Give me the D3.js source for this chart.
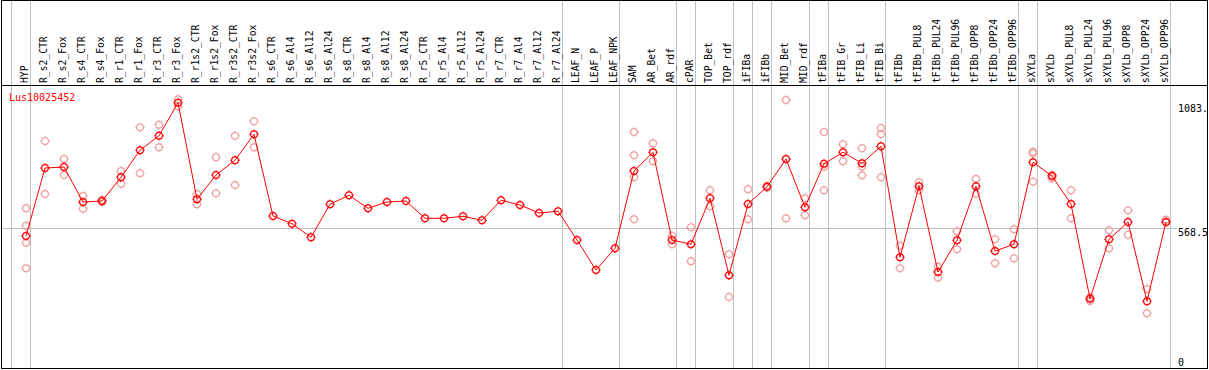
<!DOCTYPE html>
<html>
<head>
<meta charset="utf-8">
<script src="https://cdnjs.cloudflare.com/ajax/libs/d3/7.8.5/d3.min.js"></script>
<style>
body { margin: 0; background: #fff; }
text { font-family: "DejaVu Sans Mono", monospace; font-size: 10px; }
text.sample { font-size: 9.7px; }
</style>
</head>
<body>
<script>
var geneName = "Lus10025452";

var samples = ["HYP",
  "R_s2_CTR", "R_s2_Fox", "R_s4_CTR", "R_s4_Fox", "R_r1_CTR", "R_r1_Fox", "R_r3_CTR", "R_r3_Fox",
  "R_r1s2_CTR", "R_r1s2_Fox", "R_r3s2_CTR", "R_r3s2_Fox",
  "R_s6_CTR", "R_s6_Al4", "R_s6_Al12", "R_s6_Al24", "R_s8_CTR", "R_s8_Al4", "R_s8_Al12", "R_s8_Al24",
  "R_r5_CTR", "R_r5_Al4", "R_r5_Al12", "R_r5_Al24", "R_r7_CTR", "R_r7_Al4", "R_r7_Al12", "R_r7_Al24",
  "LEAF_N", "LEAF_P", "LEAF_NPK",
  "SAM", "AR_Bet", "AR_rdf", "cPAR", "TOP_Bet", "TOP_rdf", "iFIBa", "iFIBb", "MID_Bet", "MID_rdf",
  "tFIBa", "tFIB_Gr", "tFIB_Li", "tFIB_Bi",
  "tFIBb", "tFIBb_PUL8", "tFIBb_PUL24", "tFIBb_PUL96", "tFIBb_OPP8", "tFIBb_OPP24", "tFIBb_OPP96",
  "sXYLa", "sXYLb", "sXYLb_PUL8", "sXYLb_PUL24", "sXYLb_PUL96", "sXYLb_OPP8", "sXYLb_OPP24", "sXYLb_OPP96"];

var means = [536,
  808, 812, 672, 676, 771, 879, 937, 1069,
  683, 780, 839, 943,
  616, 585, 531, 663, 699, 647, 672, 676,
  607, 607, 615, 599, 679, 660, 628, 635,
  520, 400, 487,
  796, 871, 520, 503, 687, 379, 664, 733, 844, 651,
  825, 871, 827, 895,
  451, 735, 392, 519, 735, 476, 503,
  831, 776, 664, 285, 523, 592, 275, 592];

var reps = [[647, 577, 509, 407],
  [916, 704], [844, 780], [696, 645], [680, 672], [796, 745], [971, 787], [981, 891], [1083, 1055],
  [704, 663], [851, 707], [937, 740], [995, 891],
  [], [], [], [], [], [], [], [],
  [], [], [], [], [], [], [], [],
  [], [], [],
  [952, 859, 771, 603], [907, 835], [537, 503], [571, 435], [719, 655], [463, 292], [723, 603], [736, 730], [1080, 607], [687, 619],
  [952, 719, 813], [903, 835], [887, 779, 813], [968, 943, 771],
  [497, 407], [751, 719], [413, 369], [555, 483], [764, 705], [523, 427], [563, 447],
  [867, 873, 753], [780, 767], [719, 607], [291, 276], [559, 487], [639, 541], [324, 227], [601, 591]];

var groupSizes = [1, 28, 3, 3, 1, 2, 1, 1, 2, 1, 3, 7, 1, 7];

var axisValues = [1083, 568.5, 0];
var axisLabels = ["1083.", "568.5", "0"];

var w = 1209;
var h = 370;
var mainColor = "#ff0000";
var repColor = "#f0a0a0";

var svg = d3.select("body").append("svg")
  .attr("width", w)
  .attr("height", h);

var x = d3.scalePoint().domain(samples).range([26, 1166]);
var step = x.step();
var y = d3.scaleLinear().domain([0, 1083]).range([370, 99.25]);

// group separators
var bounds = [-1];
var acc = -1;
groupSizes.forEach(function(s) { acc += s; bounds.push(acc); });

svg.selectAll("line.sep")
  .data(bounds)
  .enter().append("line")
  .attr("class", "sep")
  .attr("x1", function(i) { return Math.round(x.range()[0] + step * i + 4) + 0.5; })
  .attr("x2", function(i) { return Math.round(x.range()[0] + step * i + 4) + 0.5; })
  .attr("y1", 0)
  .attr("y2", 369)
  .style("stroke", "#c0c0c0")
  .style("stroke-width", 1);

// horizontal mid line
var midY = Math.round(y(axisValues[1])) + 0.5;
svg.append("line")
  .attr("x1", 1).attr("x2", 1177)
  .attr("y1", midY).attr("y2", midY)
  .style("stroke", "#c0c0c0");

// frame
svg.append("rect")
  .attr("x", 1.5).attr("y", 0.5)
  .attr("width", 1206).attr("height", 368)
  .style("fill", "none")
  .style("stroke", "#000");
svg.append("line")
  .attr("x1", 1).attr("x2", 1208)
  .attr("y1", 85.5).attr("y2", 85.5)
  .style("stroke", "#000");

// sample labels
svg.selectAll("text.sample")
  .data(samples)
  .enter().append("text")
  .attr("class", "sample")
  .attr("transform", function(d) { return "translate(" + (x(d) + 1.5) + ",83) rotate(-90)"; })
  .text(function(d) { return d; });

// axis labels
svg.selectAll("text.axis")
  .data(axisValues)
  .enter().append("text")
  .attr("class", "axis")
  .attr("x", 1178)
  .attr("y", function(v) { return Math.min(Math.max(y(v) + 8, 111.5), 365.5); })
  .text(function(v, i) { return axisLabels[i]; });

svg.append("text")
  .attr("x", 9)
  .attr("y", 101)
  .style("fill", mainColor)
  .text(geneName);

var tickPath = "M0,-3.3V-4.8M0,3.3V4.8M-3.3,0H-4.8M3.3,0H4.8";

function drawMarkers(data, color, cls) {
  var m = svg.selectAll("g." + cls)
    .data(data)
    .enter().append("g")
    .attr("class", cls)
    .attr("transform", function(d) { return "translate(" + d.x + "," + d.y + ")"; });
  m.append("circle")
    .attr("r", 3.4)
    .style("fill", "none")
    .style("stroke", color)
    .style("stroke-width", 1.2);
  m.append("path")
    .attr("d", tickPath)
    .style("stroke", color)
    .style("stroke-width", 1);
}

// replicates
var repPoints = [];
reps.forEach(function(r, i) {
  r.forEach(function(v) { repPoints.push({ x: x(samples[i]), y: y(v) }); });
});
drawMarkers(repPoints, repColor, "rep");

// mean line
var line = d3.line()
  .x(function(d, i) { return x(samples[i]); })
  .y(function(d) { return y(d); });

svg.append("path")
  .datum(means)
  .attr("d", line)
  .style("fill", "none")
  .style("stroke", mainColor)
  .style("stroke-width", 1);

drawMarkers(means.map(function(v, i) { return { x: x(samples[i]), y: y(v) }; }), mainColor, "mean");
</script>
</body>
</html>
